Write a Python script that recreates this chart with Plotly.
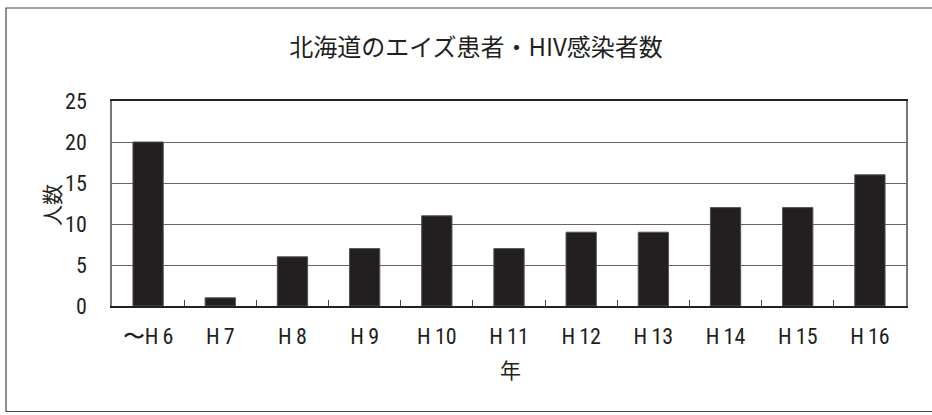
import plotly.graph_objects as go

categories = ["〜H\u20096", "H\u20097", "H\u20098", "H\u20099", "H\u200910", "H\u200911",
              "H\u200912", "H\u200913", "H\u200914", "H\u200915", "H\u200916"]
patients = [20, 1, 6, 7, 11, 7, 9, 9, 12, 12, 16]
y_ticks = [0, 5, 10, 15, 20, 25]

W, H = 932, 415
L, R, T, B = 112, 906, 101, 306

narrow = "Liberation Sans Narrow, Roboto Condensed, Arial Narrow, Liberation Sans, sans-serif"
cjk = "Noto Sans CJK JP, sans-serif"

fig = go.Figure(go.Bar(
    x=categories, y=patients,
    marker=dict(color="#231f20", line=dict(color="#555", width=1)),
    hoverinfo="x+y",
))

def px_to_paper_x(p):
    return (p - L) / (R - L)

def px_to_paper_y(p):
    return (B - p) / (B - T)

fig.update_layout(
    width=W, height=H,
    margin=dict(l=L, r=W - R, t=T, b=H - B),
    paper_bgcolor="white", plot_bgcolor="white",
    bargap=0.58,
    showlegend=False,
    title=dict(text="北海道のエイズ患者・HIV感染者数",
               font=dict(family=cjk, size=24, color="#231f20"),
               x=476 / W, xanchor="center", xref="container",
               y=1 - 48 / H, yanchor="middle", yref="container"),
    xaxis=dict(type="category", showline=True, linecolor="#222", linewidth=2, mirror=True,
               ticks="inside", tickson="boundaries", ticklen=6, tickcolor="#444", tickwidth=1,
               tickfont=dict(family=narrow, size=22, color="#231f20"),
               ticklabelstandoff=10, showgrid=False),
    yaxis=dict(range=[0, 25], tickvals=y_ticks, showline=True, linecolor="#777", linewidth=1.5,
               mirror=True, ticks="", showgrid=True, gridcolor="#666", gridwidth=1.2,
               tickfont=dict(family=narrow, size=22, color="#231f20"),
               ticklabelstandoff=19, zeroline=False),
    annotations=[
        dict(text="人数", x=px_to_paper_x(51), y=px_to_paper_y(205), xref="paper", yref="paper",
             showarrow=False, textangle=-90, font=dict(family=cjk, size=21, color="#231f20"),
             xanchor="center", yanchor="middle"),
        dict(text="年", x=px_to_paper_x(510), y=px_to_paper_y(369), xref="paper", yref="paper",
             showarrow=False, font=dict(family=cjk, size=21, color="#231f20"),
             xanchor="center", yanchor="middle"),
    ],
    shapes=[
        dict(type="rect", xref="paper", yref="paper",
             x0=px_to_paper_x(6), x1=px_to_paper_x(980),
             y0=px_to_paper_y(411.5), y1=px_to_paper_y(8),
             line=dict(color="#444", width=1.2), fillcolor="rgba(0,0,0,0)", layer="below"),
    ],
)

fig.write_html("out.html", config={"displayModeBar": False},
               post_script="document.body.style.margin='0px';document.body.style.overflow='hidden';")
